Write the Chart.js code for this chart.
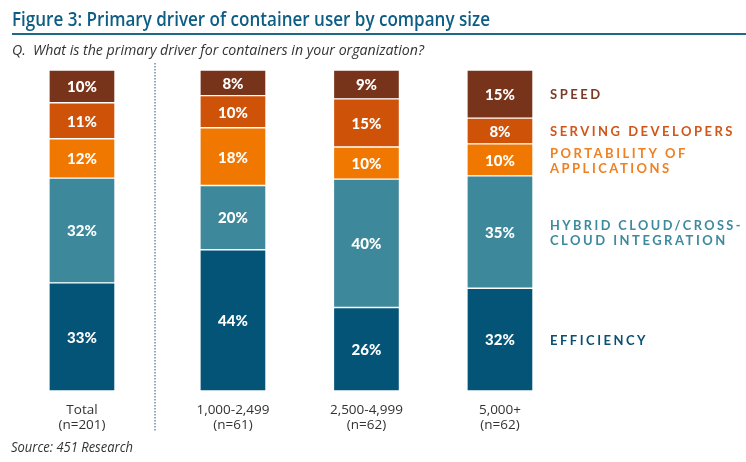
<!DOCTYPE html>
<html>
<head>
<meta charset="utf-8">
<script src="https://cdn.jsdelivr.net/npm/chart.js@4.4.0/dist/chart.umd.min.js"></script>
<style>
  body { margin: 0; background: #fff; }
  canvas { display: block; }
</style>
</head>
<body>
<canvas id="driverChart" width="746" height="462"></canvas>
<script>
// survey values, percent of respondents
var groups = ['Total', '1,000-2,499', '2,500-4,999', '5,000+'];
var sampleSizes = ['(n=201)', '(n=61)', '(n=62)', '(n=62)'];
var efficiency = [33, 44, 26, 32];
var hybridCloud = [32, 20, 40, 35];
var portability = [12, 18, 10, 10];
var servingDevelopers = [11, 10, 15, 8];
var speed = [10, 8, 9, 15];
var driverNames = [
  ['EFFICIENCY'],
  ['HYBRID CLOUD/CROSS-', 'CLOUD INTEGRATION'],
  ['PORTABILITY OF', 'APPLICATIONS'],
  ['SERVING DEVELOPERS'],
  ['SPEED']
];

// layout: Total column sits a bit apart from the size columns
var slotX = [0, 1.131, 2.131, 3.131];
var barColors = ['#045478', '#3e889b', '#f07800', '#cf5209', '#78341a'];
var textColors = ['#0b4f72', '#3c8a9e', '#f08020', '#d0561a', '#7b3a25'];

var seriesList = [efficiency, hybridCloud, portability, servingDevelopers, speed];

// each column is drawn as a full-height stack (Total adds up to 98)
var stackTotals = groups.map(function(g, i) {
  var sum = 0;
  seriesList.forEach(function(s) { sum += s[i]; });
  return sum;
});

var datasets = seriesList.map(function(series, k) {
  return {
    label: driverNames[k].join(' '),
    rawValues: series,
    data: series.map(function(v, i) { return { x: slotX[i], y: v / stackTotals[i] * 100 }; }),
    backgroundColor: barColors[k],
    borderColor: 'rgba(255,255,255,0.85)',
    borderWidth: 1,
    borderSkipped: false,
    barThickness: 66
  };
});

var textPlugin = {
  id: 'textPlugin',
  afterDatasetsDraw: function(chart) {
    var c = chart.ctx;
    c.save();
    // values inside bars
    c.textAlign = 'center';
    c.textBaseline = 'middle';
    c.font = '900 15px Lato';
    c.fillStyle = '#ffffff';
    chart.data.datasets.forEach(function(ds, k) {
      var meta = chart.getDatasetMeta(k);
      meta.data.forEach(function(bar, i) {
        c.fillText(ds.rawValues[i] + '%', bar.x, (bar.y + bar.base) / 2 + 1);
      });
    });

    // driver names next to the last column
    c.textAlign = 'left';
    c.font = 'bold 13px Lato';
    c.letterSpacing = '2.5px';
    chart.data.datasets.forEach(function(ds, k) {
      var meta = chart.getDatasetMeta(k);
      var bar = meta.data[meta.data.length - 1];
      var mid = (bar.y + bar.base) / 2;
      var lines = driverNames[k];
      c.fillStyle = textColors[k];
      lines.forEach(function(line, j) {
        c.fillText(line, 550, mid + (j - (lines.length - 1) / 2) * 15 + 1, 193);
      });
    });
    c.letterSpacing = '0px';

    // title, question, source
    c.textBaseline = 'alphabetic';
    c.fillStyle = '#0d5d84';
    c.font = '600 19px "Open Sans"';
    c.fillText('Figure 3: Primary driver of container user by company size', 12, 26, 478);
    c.strokeStyle = '#1b6a8c';
    c.lineWidth = 2;
    c.beginPath();
    c.moveTo(12, 34);
    c.lineTo(746, 34);
    c.stroke();

    c.fillStyle = '#333333';
    c.font = 'italic 15px "Open Sans"';
    c.fillText('Q.  What is the primary driver for containers in your organization?', 12, 55, 412);
    c.fillText('Source: 451 Research', 11, 452, 122);

    // dotted separator after Total
    c.strokeStyle = '#6f8ca3';
    c.lineWidth = 1.5;
    c.setLineDash([1.5, 1.5]);
    c.beginPath();
    c.moveTo(155, 63);
    c.lineTo(155, 432);
    c.stroke();
    c.restore();
  }
};

var ctxDriver = document.getElementById('driverChart').getContext('2d');
var driverChart = new Chart(ctxDriver, {
  type: 'bar',
  data: { datasets: datasets },
  options: {
    responsive: false,
    animation: false,
    layout: { padding: { top: 70, bottom: 18, left: 0, right: 0 } },
    plugins: { legend: { display: false }, tooltip: { enabled: false } },
    scales: {
      x: {
        type: 'linear',
        stacked: true,
        offset: false,
        min: -0.614,
        max: 4.974,
        grid: { display: false, drawTicks: false },
        border: { display: false },
        afterBuildTicks: function(scale) {
          scale.ticks = slotX.map(function(v) { return { value: v }; });
        },
        ticks: {
          autoSkip: false,
          maxRotation: 0,
          padding: 11,
          color: '#333333',
          font: { family: '"Open Sans"', size: 13.5, lineHeight: 1.15 },
          callback: function(value, index) {
            return [groups[index], sampleSizes[index]];
          }
        }
      },
      y: {
        display: false,
        stacked: true,
        min: 0,
        max: 100
      }
    }
  },
  plugins: [textPlugin]
});
</script>
</body>
</html>
